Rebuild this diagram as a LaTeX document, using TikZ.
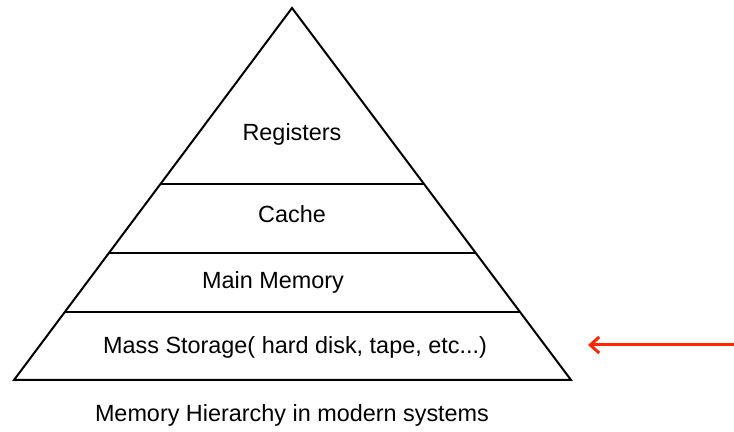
\documentclass[tikz,border=0pt]{standalone}
\usepackage{fontspec}
\setmainfont{Liberation Sans}
\usepackage{tikz}
\usetikzlibrary{arrows.meta}
\definecolor{arrowred}{RGB}{255, 40, 0}
\tikzset{every picture/.style={line width=0.75pt}}
\tikzset{levellabel/.style={font=\fontsize{11.7}{14}\selectfont, inner sep=0pt}}

\begin{document}
\begin{tikzpicture}[x=0.5pt,y=0.5pt,yscale=-1,xscale=1]
\useasboundingbox (0,0) rectangle (734,432);

%Shape: Triangle [id:pyramid]
\draw [line width=1pt]  (292,8) -- (571,380) -- (14,380) -- cycle ;
%Straight Lines [id:level1]
\draw    (160.5,184) -- (424,184) ;
%Straight Lines [id:level2]
\draw    (109,253) -- (475.5,253) ;
%Straight Lines [id:level3]
\draw    (65,312) -- (519.5,312) ;

% level texts
\node [levellabel] (registers) at (292,134) {Registers};
\node [levellabel] (cache) at (292,214) {Cache};
\node [levellabel] (mainmem) at (273,282) {Main Memory};
\node [levellabel] (massstore) at (295,347) {Mass Storage( hard disk, tape, etc...)};
\node [levellabel] (caption) at (292,415) {Memory Hierarchy in modern systems};

%Straight Lines [id:pointer]
\coordinate (arrowtail) at (734,345);
\coordinate (arrowhead) at (588,345);
\draw [color=arrowred, line width=1.5pt, -{Straight Barb[length=4.5pt,width=8pt]}] (arrowtail) -- (arrowhead) ;

\end{tikzpicture}
\end{document}
